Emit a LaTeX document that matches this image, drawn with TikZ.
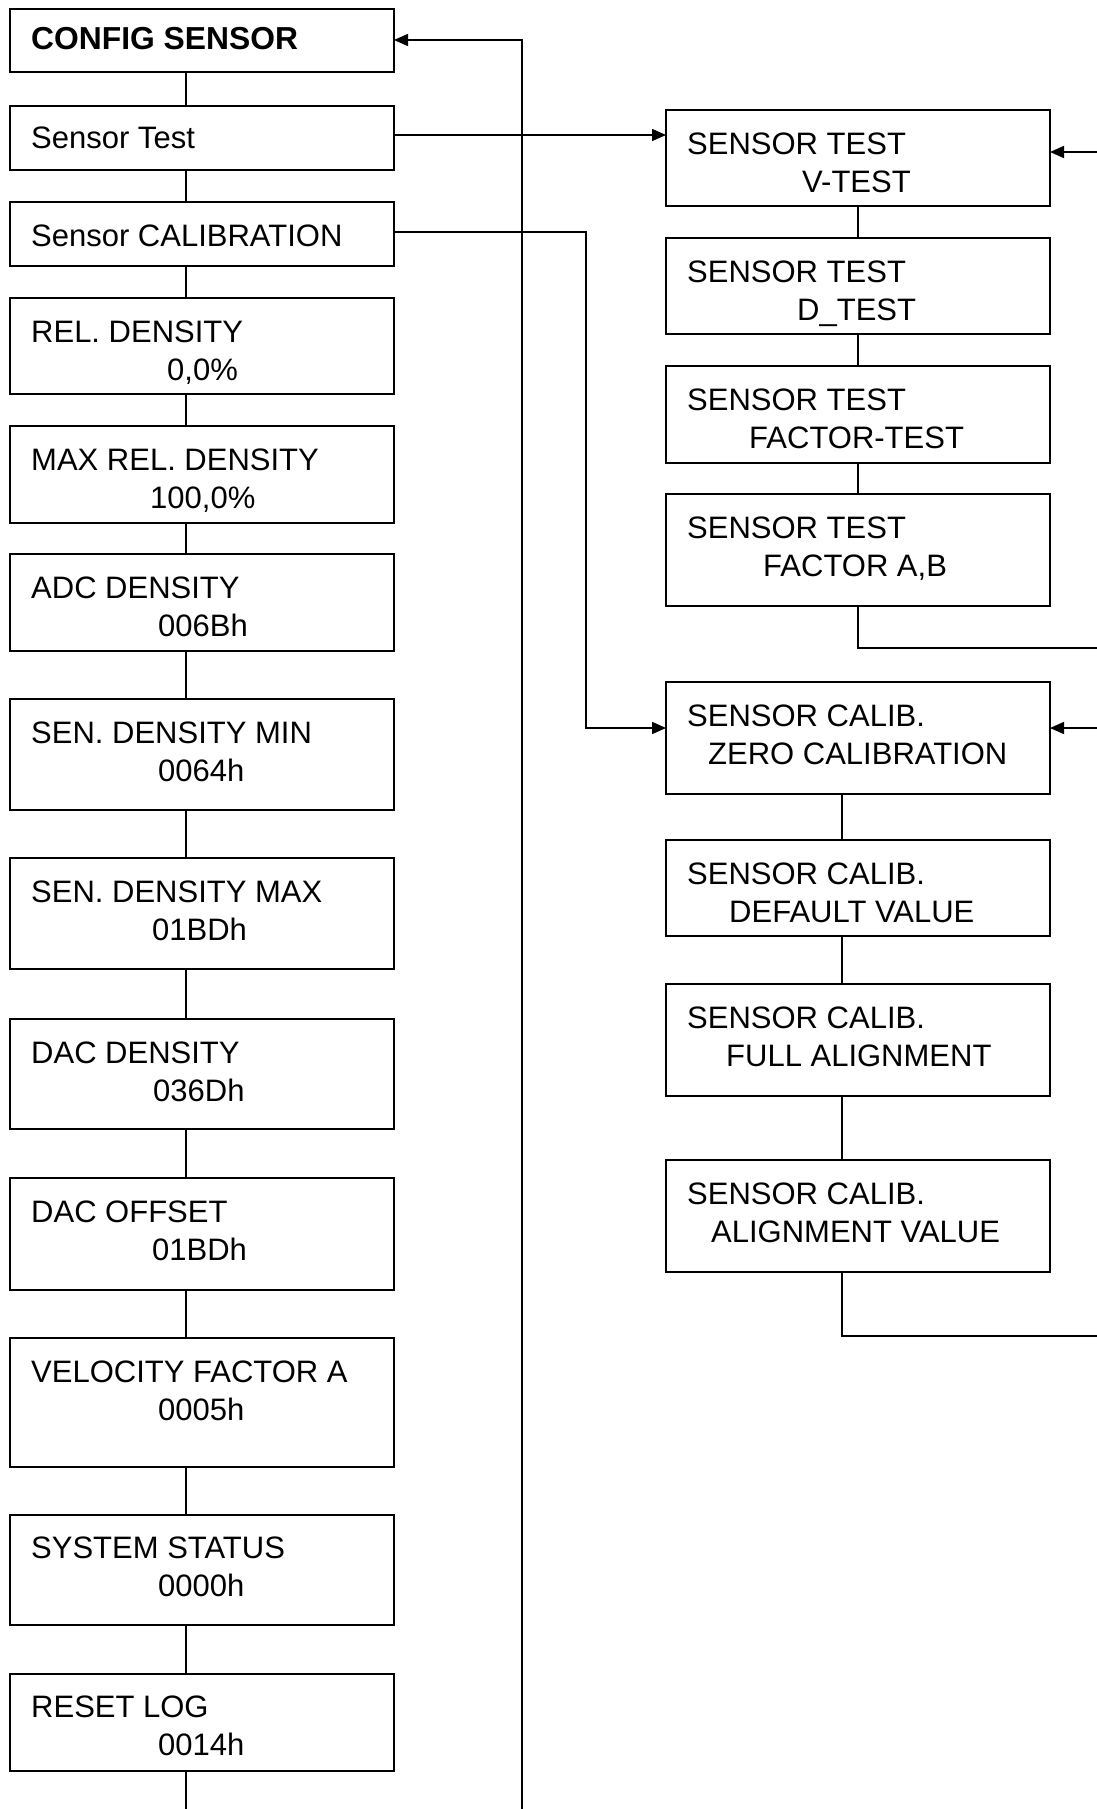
\documentclass[tikz,border=0pt]{standalone}
\usepackage{fontspec}
\setmainfont{Liberation Sans}
\usetikzlibrary{arrows.meta}
\begin{document}
\begin{tikzpicture}[x=1pt,y=-1pt,
  box/.style={draw, line width=1.8pt, inner sep=0pt, outer sep=0pt, anchor=north west, minimum width=384pt},
  lbl/.style={anchor=base west, inner sep=0pt, font=\fontsize{31}{36}\selectfont},
  conn/.style={line width=1.5pt},
  arr/.style={conn, -{Triangle[length=14pt,width=12pt]}}]
\useasboundingbox (0,0) rectangle (1097,1809);

% ---------- left column ----------
\node[box, minimum height=63pt]  (cfg)    at (10,9)    {};
\node[box, minimum height=64pt]  (stest)  at (10,106)  {};
\node[box, minimum height=64pt]  (scal)   at (10,202)  {};
\node[box, minimum height=96pt]  (rel)    at (10,298)  {};
\node[box, minimum height=97pt]  (maxrel) at (10,426)  {};
\node[box, minimum height=97pt]  (adc)    at (10,554)  {};
\node[box, minimum height=111pt] (senmin) at (10,699)  {};
\node[box, minimum height=111pt] (senmax) at (10,858)  {};
\node[box, minimum height=110pt] (dacd)   at (10,1019) {};
\node[box, minimum height=112pt] (dacoff) at (10,1178) {};
\node[box, minimum height=129pt] (velo)   at (10,1338) {};
\node[box, minimum height=110pt] (sys)    at (10,1515) {};
\node[box, minimum height=97pt]  (reset)  at (10,1674) {};

\node[lbl, font=\fontsize{31.8}{36}\selectfont\bfseries] (t-cfg) at (31,50) {CONFIG SENSOR};
\node[lbl] (t-stest) at (31,149) {Sensor Test};
\node[lbl] (t-scal)  at (31,246) {Sensor CALIBRATION};
\node[lbl] (t-rel1)  at (31,342)  {REL. DENSITY};
\node[lbl] (t-rel2)  at (167,380) {0,0\%};
\node[lbl] (t-max1)  at (31,470)  {MAX REL. DENSITY};
\node[lbl] (t-max2)  at (150,508) {100,0\%};
\node[lbl] (t-adc1)  at (31,598)  {ADC DENSITY};
\node[lbl] (t-adc2)  at (158,636) {006Bh};
\node[lbl] (t-smin1) at (31,743)  {SEN. DENSITY MIN};
\node[lbl] (t-smin2) at (158,781) {0064h};
\node[lbl] (t-smax1) at (31,902)  {SEN. DENSITY MAX};
\node[lbl] (t-smax2) at (152,940) {01BDh};
\node[lbl] (t-dacd1) at (31,1063) {DAC DENSITY};
\node[lbl] (t-dacd2) at (153,1101) {036Dh};
\node[lbl] (t-daco1) at (31,1222) {DAC OFFSET};
\node[lbl] (t-daco2) at (152,1260) {01BDh};
\node[lbl] (t-velo1) at (31,1382) {VELOCITY FACTOR A};
\node[lbl] (t-velo2) at (158,1420) {0005h};
\node[lbl] (t-sys1)  at (31,1558) {SYSTEM STATUS};
\node[lbl] (t-sys2)  at (158,1596) {0000h};
\node[lbl] (t-rst1)  at (31,1717) {RESET LOG};
\node[lbl] (t-rst2)  at (158,1755) {0014h};

\coordinate (lx) at (186,0);
\coordinate (lbot) at (186,1809);
\foreach \a/\b in {cfg/stest, stest/scal, scal/rel, rel/maxrel, maxrel/adc, adc/senmin,
  senmin/senmax, senmax/dacd, dacd/dacoff, dacoff/velo, velo/sys, sys/reset}
  \draw[conn] (\a.south -| lx) -- (\b.north -| lx);
\draw[conn] (reset.south -| lx) -- (lbot);

% return line to CONFIG SENSOR
\coordinate (retbot) at (522,1809);
\coordinate (rety) at (0,40);
\draw[arr] (retbot) -- (retbot |- rety) -- (cfg.east |- rety);

% ---------- right column: sensor test ----------
\node[box, minimum height=96pt]  (vtest) at (666,110) {};
\node[box, minimum height=96pt]  (dtest) at (666,238) {};
\node[box, minimum height=97pt]  (ftest) at (666,366) {};
\node[box, minimum height=112pt] (fab)   at (666,494) {};

\node[lbl] (t-vt1) at (687,154) {SENSOR TEST};
\node[lbl] (t-vt2) at (802,192) {V-TEST};
\node[lbl] (t-dt1) at (687,282) {SENSOR TEST};
\node[lbl] (t-dt2) at (797,320) {D\_TEST};
\node[lbl] (t-ft1) at (687,410) {SENSOR TEST};
\node[lbl] (t-ft2) at (749,448) {FACTOR-TEST};
\node[lbl] (t-fab1) at (687,538) {SENSOR TEST};
\node[lbl] (t-fab2) at (763,576) {FACTOR A,B};

\coordinate (tx) at (858,0);
\foreach \a/\b in {vtest/dtest, dtest/ftest, ftest/fab}
  \draw[conn] (\a.south -| tx) -- (\b.north -| tx);
\coordinate (tret) at (1097,648);
\draw[conn] (fab.south -| tx) -- (tx |- tret) -- (tret);
\coordinate (tin) at (1097,152);
\draw[arr] (tin) -- (vtest.east |- tin);

% ---------- right column: sensor calibration ----------
\node[box, minimum height=112pt] (zero) at (666,682)  {};
\node[box, minimum height=96pt]  (defv) at (666,840)  {};
\node[box, minimum height=112pt] (full) at (666,984)  {};
\node[box, minimum height=112pt] (alv)  at (666,1160) {};

\node[lbl] (t-z1) at (687,726) {SENSOR CALIB.};
\node[lbl] (t-z2) at (708,764) {ZERO CALIBRATION};
\node[lbl] (t-d1) at (687,884) {SENSOR CALIB.};
\node[lbl] (t-d2) at (729,922) {DEFAULT VALUE};
\node[lbl] (t-f1) at (687,1028) {SENSOR CALIB.};
\node[lbl] (t-f2) at (726,1066) {FULL ALIGNMENT};
\node[lbl] (t-a1) at (687,1204) {SENSOR CALIB.};
\node[lbl] (t-a2) at (711,1242) {ALIGNMENT VALUE};

\coordinate (cx) at (842,0);
\foreach \a/\b in {zero/defv, defv/full, full/alv}
  \draw[conn] (\a.south -| cx) -- (\b.north -| cx);
\coordinate (cret) at (1097,1336);
\draw[conn] (alv.south -| cx) -- (cx |- cret) -- (cret);
\coordinate (cin) at (1097,728);
\draw[arr] (cin) -- (zero.east |- cin);

% ---------- links from the left column ----------
\coordinate (sty) at (0,135);
\draw[arr] (stest.east |- sty) -- (vtest.west |- sty);
\coordinate (calc) at (586,232);
\coordinate (caly) at (0,728);
\draw[arr] (scal.east |- calc) -- (calc) -- (calc |- caly) -- (zero.west |- caly);
\end{tikzpicture}
\end{document}
